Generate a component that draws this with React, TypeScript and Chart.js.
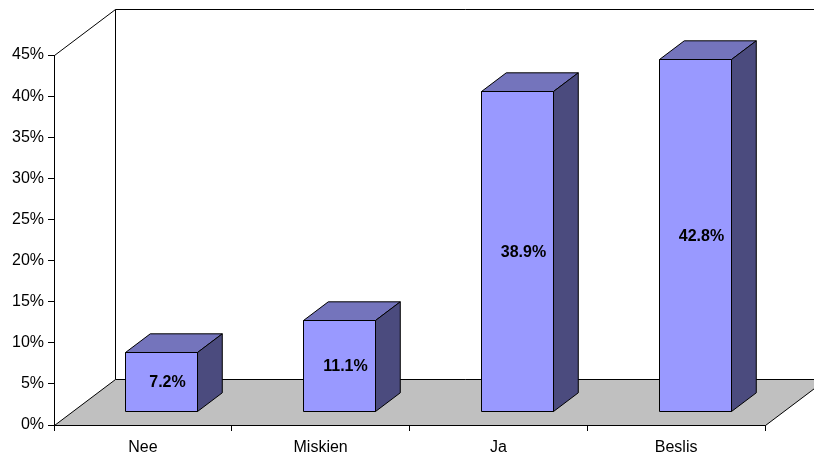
import React, { useEffect, useRef } from 'react';
import { Chart, registerables } from 'chart.js';

Chart.register(...registerables);

const categories = ['Nee', 'Miskien', 'Ja', 'Beslis'];
const values = [7.2, 11.1, 38.9, 42.8];
const yMin = 0;
const yMax = 45;
const yStep = 5;

const FONT = "'Liberation Sans', Arial, sans-serif";
const FRONT = '#9999FF';
const TOP = '#7474BC';
const SIDE = '#4B4B7E';
const FLOOR = '#C0C0C0';
const DEPTH_X = 61;
const DEPTH_Y = -46;
const BAR_F0 = 0.304;
const BAR_F1 = 0.71;

const threeD = {
  id: 'threeD',
  beforeDatasetsDraw(chart: any) {
    const { ctx, chartArea: a } = chart;
    const L = Math.round(a.left) + 0.5;
    const R = Math.round(a.right) + 0.5;
    const T = Math.round(a.top) + 0.5;
    const B = Math.round(a.bottom) + 0.5;
    ctx.save();
    ctx.lineWidth = 1;
    ctx.strokeStyle = '#000';
    ctx.fillStyle = FLOOR;
    ctx.beginPath();
    ctx.moveTo(L, B);
    ctx.lineTo(R, B);
    ctx.lineTo(R + DEPTH_X, B + DEPTH_Y);
    ctx.lineTo(L + DEPTH_X, B + DEPTH_Y);
    ctx.closePath();
    ctx.fill();
    ctx.stroke();
    ctx.beginPath();
    ctx.moveTo(L, T);
    ctx.lineTo(L + DEPTH_X, T + DEPTH_Y);
    ctx.lineTo(R + DEPTH_X + 200, T + DEPTH_Y);
    ctx.moveTo(L + DEPTH_X, T + DEPTH_Y);
    ctx.lineTo(L + DEPTH_X, B + DEPTH_Y);
    ctx.stroke();
    ctx.restore();
  },
  afterDatasetsDraw(chart: any) {
    const { ctx } = chart;
    const yScale = chart.scales.y;
    const meta = chart.getDatasetMeta(0);
    const data = chart.data.datasets[0].data as number[];
    const ddx = (BAR_F1 - BAR_F0) * DEPTH_X;
    const ddy = (BAR_F1 - BAR_F0) * DEPTH_Y;
    ctx.save();
    ctx.lineWidth = 1;
    ctx.strokeStyle = '#000';
    ctx.lineJoin = 'miter';
    meta.data.forEach((el: any, i: number) => {
      const w = el.width;
      const x0 = Math.round(el.x - w / 2 + BAR_F0 * DEPTH_X) + 0.5;
      const x1 = Math.round(x0 + w) + 0.5;
      const yb = Math.round(yScale.getPixelForValue(0) + BAR_F0 * DEPTH_Y) + 0.5;
      const yt = Math.round(yScale.getPixelForValue(data[i]) + BAR_F0 * DEPTH_Y) + 0.5;
      ctx.fillStyle = FRONT;
      ctx.beginPath();
      ctx.rect(x0, yt, x1 - x0, yb - yt);
      ctx.fill();
      ctx.stroke();
      ctx.fillStyle = TOP;
      ctx.beginPath();
      ctx.moveTo(x0, yt);
      ctx.lineTo(x1, yt);
      ctx.lineTo(x1 + ddx, yt + ddy);
      ctx.lineTo(x0 + ddx, yt + ddy);
      ctx.closePath();
      ctx.fill();
      ctx.stroke();
      ctx.fillStyle = SIDE;
      ctx.beginPath();
      ctx.moveTo(x1, yt);
      ctx.lineTo(x1 + ddx, yt + ddy);
      ctx.lineTo(x1 + ddx, yb + ddy);
      ctx.lineTo(x1, yb);
      ctx.closePath();
      ctx.fill();
      ctx.stroke();
      ctx.fillStyle = '#000';
      ctx.font = `bold 16px ${FONT}`;
      ctx.textAlign = 'center';
      ctx.textBaseline = 'middle';
      ctx.fillText(data[i].toFixed(1) + '%', (x0 + x1) / 2 + 6, (yt + yb) / 2 + 1);
    });
    ctx.restore();
  },
};

export default function App() {
  const ref = useRef<HTMLCanvasElement | null>(null);
  useEffect(() => {
    if (!ref.current) return;
    const chart = new Chart(ref.current, {
      type: 'bar',
      data: {
        labels: categories,
        datasets: [
          {
            data: values,
            backgroundColor: 'rgba(0,0,0,0)',
            borderWidth: 0,
            categoryPercentage: 1,
            barPercentage: 0.405,
          },
        ],
      },
      options: {
        responsive: false,
        animation: false,
        events: [],
        layout: { padding: { top: 55, right: 49, left: 0, bottom: 0 } },
        plugins: { legend: { display: false }, tooltip: { enabled: false } },
        scales: {
          x: {
            grid: { display: true, drawOnChartArea: false, color: '#000', tickLength: 6, offset: true },
            border: { display: true, color: '#000', width: 1 },
            ticks: { color: '#000', font: { family: FONT, size: 16 }, padding: 7, maxRotation: 0 },
            afterFit: (s: any) => { s.height = 29; },
          },
          y: {
            min: yMin,
            max: yMax,
            grid: { display: true, drawOnChartArea: false, color: '#000', tickLength: 6 },
            border: { display: true, color: '#000', width: 1 },
            ticks: {
              stepSize: yStep,
              color: '#000',
              font: { family: FONT, size: 16 },
              padding: 4,
              callback: (v: any) => `${v}%`,
            },
            afterFit: (s: any) => { s.width = 54; },
          },
        },
      },
      plugins: [threeD],
    });
    return () => chart.destroy();
  }, []);
  return (
    <div style={{ position: 'fixed', left: 0, top: 0, width: 814, height: 454, background: '#fff' }}>
      <canvas ref={ref} width={814} height={454} style={{ display: 'block' }} />
    </div>
  );
}
